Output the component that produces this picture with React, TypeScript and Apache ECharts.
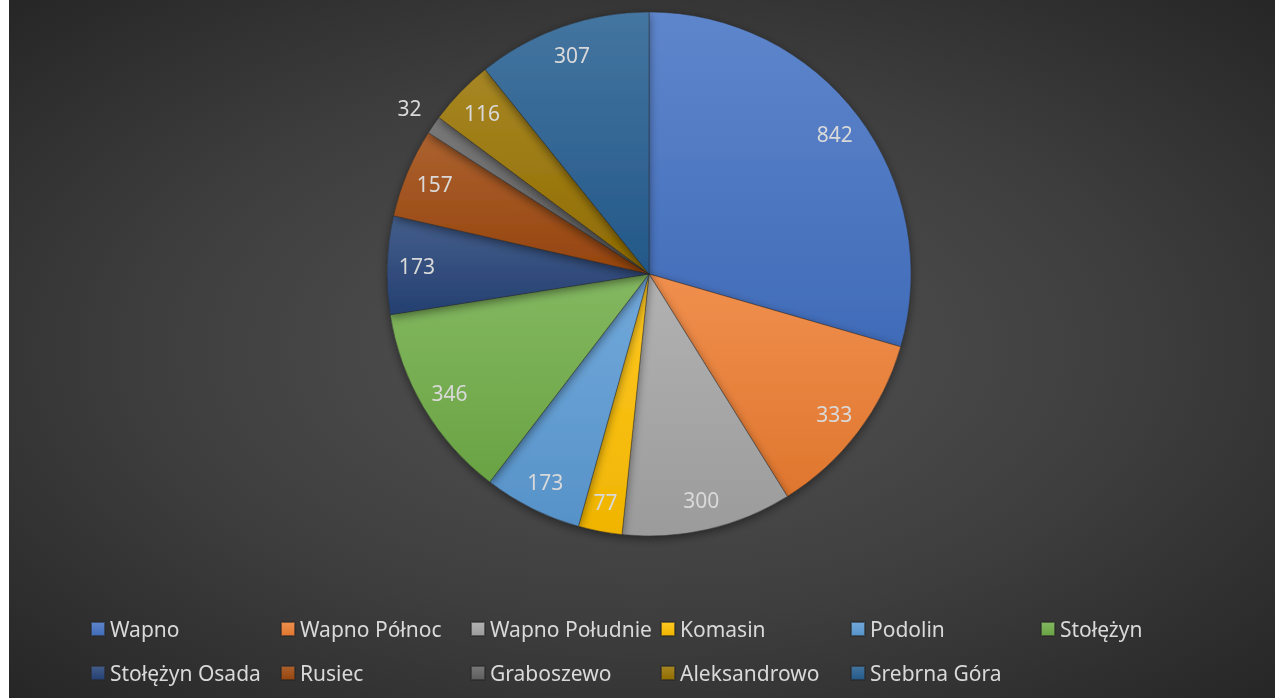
import React, { useEffect, useRef } from "react";
import * as echarts from "echarts";

const categories = [
  "Wapno",
  "Wapno Północ",
  "Wapno Południe",
  "Komasin",
  "Podolin",
  "Stołężyn",
  "Stołężyn Osada",
  "Rusiec",
  "Graboszewo",
  "Aleksandrowo",
  "Srebrna Góra",
];
const values = [842, 333, 300, 77, 173, 346, 173, 157, 32, 116, 307];
const baseColors = [
  "#4472C4",
  "#ED7D31",
  "#A5A5A5",
  "#FFC000",
  "#5B9BD5",
  "#70AD47",
  "#264478",
  "#9E480E",
  "#636363",
  "#997300",
  "#255E91",
];
const outsideLabels = ["Graboszewo"];

function shade(hex: string, f: number): string {
  const n = parseInt(hex.slice(1), 16);
  let r = (n >> 16) & 255, g = (n >> 8) & 255, b = n & 255;
  const adj = (c: number) =>
    Math.round(f >= 0 ? c + (255 - c) * f : c * (1 + f));
  r = adj(r); g = adj(g); b = adj(b);
  return "#" + [r, g, b].map((c) => c.toString(16).padStart(2, "0")).join("");
}

function grad(hex: string) {
  return new echarts.graphic.LinearGradient(0, 0, 0, 1, [
    { offset: 0, color: shade(hex, 0.14) },
    { offset: 1, color: shade(hex, -0.06) },
  ]);
}

export default function App() {
  const ref = useRef<HTMLDivElement>(null);
  useEffect(() => {
    if (!ref.current) return;
    const chart = echarts.init(ref.current, null, { renderer: "svg" });
    const R = 262;
    const center = [640, 274];
    const font = "'Noto Sans', 'Open Sans', sans-serif";
    const labelStyle = {
      show: true,
      position: "inside",
      formatter: "{c}",
      color: "#d9d9d9",
      fontSize: 21,
      fontFamily: font,
    };
    chart.setOption({
      animation: false,
      backgroundColor: "transparent",
      legend: {
        data: categories,
        left: 81,
        top: 607,
        padding: 0,
        width: 1140,
        itemWidth: 14,
        itemHeight: 14,
        itemGap: 0,
        icon: "rect",
        selectedMode: false,
        textStyle: {
          color: "#d9d9d9",
          fontSize: 21,
          fontFamily: font,
          width: 170,
          lineHeight: 44,
          overflow: "none",
        },
      },
      series: [
        {
          type: "pie",
          center,
          radius: R,
          startAngle: 90,
          clockwise: true,
          silent: true,
          label: { show: false },
          labelLine: { show: false },
          itemStyle: {
            borderColor: "rgba(40,40,40,0.6)",
            borderWidth: 0.7,
            shadowBlur: 10,
            shadowOffsetY: 3,
            shadowColor: "rgba(0,0,0,0.45)",
          },
          data: categories.map((name, i) => ({
            name,
            value: values[i],
            itemStyle: { color: grad(baseColors[i]) },
          })),
        },
        {
          type: "pie",
          center,
          radius: [R * 0.75, R],
          startAngle: 90,
          clockwise: true,
          silent: true,
          itemStyle: { color: "transparent" },
          labelLine: { show: false },
          label: labelStyle,
          data: categories.map((name, i) => ({
            name,
            value: values[i],
            label: { show: !outsideLabels.includes(name) },
          })),
        },
        {
          type: "pie",
          center,
          radius: [R, R * 1.2],
          startAngle: 90,
          clockwise: true,
          silent: true,
          itemStyle: { color: "transparent" },
          labelLine: { show: false },
          label: labelStyle,
          data: categories.map((name, i) => ({
            name,
            value: values[i],
            label: { show: outsideLabels.includes(name) },
          })),
        },
      ],
    });
    return () => chart.dispose();
  }, []);
  return (
    <div
      style={{
        position: "fixed",
        left: 9,
        top: 0,
        width: 1266,
        height: 698,
        background:
          "radial-gradient(ellipse at 50% 50%, #545454 0%, #3e3e3e 55%, #262626 100%)",
      }}
    >
      <div ref={ref} style={{ width: 1266, height: 698 }} />
    </div>
  );
}
